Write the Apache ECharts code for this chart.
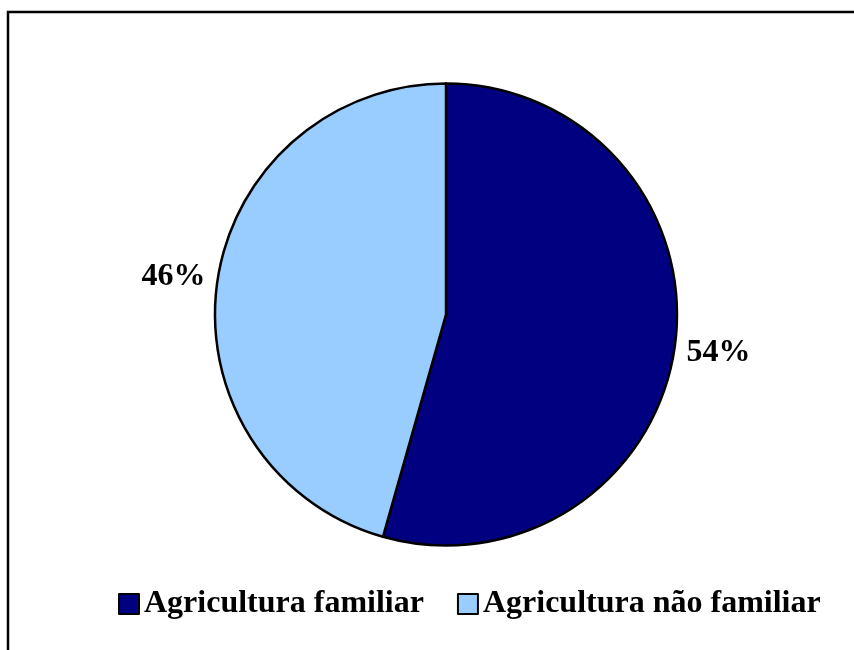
<!DOCTYPE html>
<html><head><meta charset="utf-8">
<script src="https://cdn.jsdelivr.net/npm/echarts@6/dist/echarts.min.js"></script>
<style>html,body{margin:0;padding:0;background:#fff}#c{width:854px;height:650px}</style>
</head><body><div id="c"></div>
<script>
const categories = ['Agricultura familiar', 'Agricultura não familiar'];
const values = [54.4, 45.6];
const colors = ['#000080', '#99CCFF'];

const chart = echarts.init(document.getElementById('c'), null, {renderer: 'canvas'});
const font = '"Liberation Serif", "Times New Roman", serif';
chart.setOption({
  animation: false,
  graphic: [{
    type: 'rect', shape: {x: 8, y: 12, width: 900, height: 700},
    style: {fill: 'none', stroke: '#000', lineWidth: 2.5}, silent: true
  }],
  legend: {
    data: categories,
    left: 113, top: 583,
    itemWidth: 20, itemHeight: 20, itemGap: 33, itemTextGap: 9,
    icon: 'rect',
    itemStyle: {borderColor: '#000', borderWidth: 2},
    textStyle: {fontFamily: font, fontWeight: 'bold', fontSize: 32, color: '#000'}
  },
  series: [{
    type: 'pie',
    center: [446, 314.5],
    radius: [0, 231],
    startAngle: 90,
    clockwise: true,
    data: categories.map((n, i) => ({name: n, value: values[i], itemStyle: {color: colors[i]}})),
    itemStyle: {borderColor: '#000', borderWidth: 2.5},
    label: {show: false},
    labelLine: {show: false},
    emphasis: {disabled: true}
  }, {
    type: 'pie',
    center: [446, 314.5],
    radius: [231, 313],
    startAngle: 90,
    clockwise: true,
    silent: true,
    data: categories.map((n, i) => ({name: n, value: values[i]})),
    itemStyle: {color: 'rgba(0,0,0,0)', borderWidth: 0},
    label: {
      show: true, position: 'inside',
      formatter: p => Math.round(p.value) + '%',
      fontFamily: font, fontWeight: 'bold', fontSize: 32, color: '#000'
    },
    labelLine: {show: false},
    emphasis: {disabled: true}
  }]
});
</script></body></html>
